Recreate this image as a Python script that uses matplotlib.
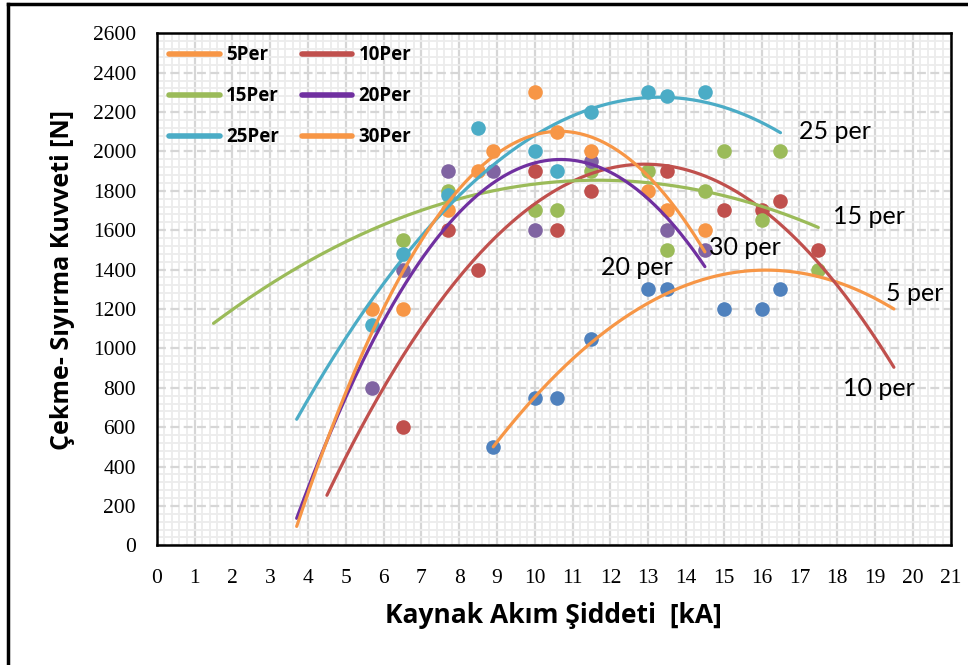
import numpy as np
import matplotlib
matplotlib.use("Agg")
import matplotlib.pyplot as plt
from matplotlib.lines import Line2D
from matplotlib.ticker import MultipleLocator

# Measured pull-shear force [N] versus welding current [kA] for each pulse count
series_names = ["5Per", "10Per", "15Per", "20Per", "25Per", "30Per"]

x_5 = [8.9, 10, 10.6, 11.5, 13, 13.5, 15, 16, 16.5]
y_5 = [500, 750, 750, 1050, 1300, 1300, 1200, 1200, 1300]

x_10 = [6.5, 7.7, 8.5, 10, 10.6, 11.5, 13.5, 15, 16, 16.5, 17.5]
y_10 = [600, 1600, 1400, 1900, 1600, 1800, 1900, 1700, 1700, 1750, 1500]

x_15 = [6.5, 7.7, 10, 10.6, 11.5, 13, 13.5, 14.5, 15, 16, 16.5, 17.5]
y_15 = [1550, 1800, 1700, 1700, 1900, 1900, 1500, 1800, 2000, 1650, 2000, 1400]

x_20 = [5.7, 6.5, 7.7, 8.9, 10, 11.5, 13.5, 14.5]
y_20 = [800, 1400, 1900, 1900, 1600, 1950, 1600, 1500]

x_25 = [5.7, 6.5, 7.7, 8.5, 10, 10.6, 11.5, 13, 13.5, 14.5]
y_25 = [1120, 1480, 1780, 2120, 2000, 1900, 2200, 2300, 2280, 2300]

x_30 = [5.7, 6.5, 7.7, 8.5, 8.9, 10, 10.6, 11.5, 13, 13.5, 14.5]
y_30 = [1200, 1200, 1700, 1900, 2000, 2300, 2100, 2000, 1800, 1700, 1600]

# 2nd-order trendlines: three points on each curve (start, apex region, end)
trend_x_5 = [8.9, 13.0, 19.5]
trend_y_5 = [500, 1230, 1200]
trend_x_10 = [4.5, 13.0, 19.5]
trend_y_10 = [254, 1935, 904]
trend_x_15 = [1.5, 12.0, 17.5]
trend_y_15 = [1127, 1853, 1614]
trend_x_20 = [3.7, 10.7, 14.5]
trend_y_20 = [137, 1959, 1415]
trend_x_25 = [3.7, 13.2, 16.5]
trend_y_25 = [640, 2275, 2095]
trend_x_30 = [3.7, 10.6, 14.5]
trend_y_30 = [96, 2102, 1490]

# curve labels: text, x, y
curve_labels = ["25 per", "15 per", "30 per", "20 per", "5 per", "10 per"]
curve_label_x = [17.0, 17.9, 14.6, 11.75, 19.3, 18.15]
curve_label_y = [2100, 1670, 1513, 1411, 1279, 797]

x_ticks = list(range(0, 22))
y_ticks = list(range(0, 2601, 200))

marker_colors = ["#4f81bd", "#c0504d", "#9bbb59", "#8064a2", "#4bacc6", "#f79646"]
line_colors = ["#f79646", "#c0504d", "#9bbb59", "#7030a0", "#4bacc6", "#f79646"]

xs = [x_5, x_10, x_15, x_20, x_25, x_30]
ys = [y_5, y_10, y_15, y_20, y_25, y_30]
txs = [trend_x_5, trend_x_10, trend_x_15, trend_x_20, trend_x_25, trend_x_30]
tys = [trend_y_5, trend_y_10, trend_y_15, trend_y_20, trend_y_25, trend_y_30]

fig = plt.figure(figsize=(9.68, 6.65), dpi=100)
ax = fig.add_axes([0.162, 0.180, 0.820, 0.770])
ax.set_facecolor("white")

# grid: fine minor mesh + major lines
ax.xaxis.set_minor_locator(MultipleLocator(0.2))
ax.yaxis.set_minor_locator(MultipleLocator(40))
ax.grid(which="minor", color="#ececec", lw=1.3, ls="-", zorder=0)
ax.grid(which="major", axis="x", color="#d6d6d6", lw=1.6, ls="-", zorder=0)
ax.grid(which="major", axis="y", color="#d6d6d6", lw=1.6, ls=(0, (4, 2)), zorder=0)
ax.set_axisbelow(True)

handles = []
for i, name in enumerate(series_names):
    ax.plot(xs[i], ys[i], "o", color=marker_colors[i], ms=10.5, mec="none", zorder=3)
    coef = np.polyfit(txs[i], tys[i], 2)
    xt = np.linspace(txs[i][0], txs[i][-1], 200)
    h, = ax.plot(xt, np.polyval(coef, xt), "-", color=line_colors[i], lw=2.3,
                 solid_capstyle="round", zorder=4, label=name)
    handles.append(h)

for t, lx, ly in zip(curve_labels, curve_label_x, curve_label_y):
    ax.text(lx, ly, t, fontsize=18, family="Lato", va="center", ha="left", zorder=5)

ax.set_xlim(0, 21)
ax.set_ylim(0, 2600)
ax.set_xticks(x_ticks)
ax.set_yticks(y_ticks)
ax.tick_params(which="both", length=0)
ax.tick_params(axis="x", pad=17)
ax.tick_params(axis="y", pad=15)
for lab in ax.get_xticklabels() + ax.get_yticklabels():
    lab.set_family("Liberation Serif")
    lab.set_fontsize(15.5)

for sp in ax.spines.values():
    sp.set_linewidth(1.8)
    sp.set_color("black")

order = [0, 2, 4, 1, 3, 5]
leg = ax.legend([handles[k] for k in order], [series_names[k] for k in order],
                ncol=2, loc="upper left", frameon=False,
                prop={"family": "Open Sans", "weight": "bold", "size": 13.5},
                handlelength=2.7, columnspacing=1.2, labelspacing=1.12,
                handletextpad=0.35, borderaxespad=0.4, borderpad=0.25)
for lh in leg.get_lines():
    lh.set_linewidth(4)

ax.set_xlabel("Kaynak Akım Şiddeti  [kA]", family="Open Sans", weight="bold",
              fontsize=19, labelpad=10)
ax.set_ylabel("Çekme- Sıyırma Kuvveti [N]", family="Open Sans", weight="bold",
              fontsize=18)
ax.yaxis.set_label_coords(-0.103, 0.518)

# outer frame
fig.add_artist(Line2D([7.5 / 968, 7.5 / 968], [0, 1 - 3.5 / 665], color="black",
                      lw=2.5, transform=fig.transFigure))
fig.add_artist(Line2D([7.5 / 968, 1], [1 - 3.5 / 665, 1 - 3.5 / 665], color="black",
                      lw=2.5, transform=fig.transFigure))

fig.savefig("out.png", dpi=100)
